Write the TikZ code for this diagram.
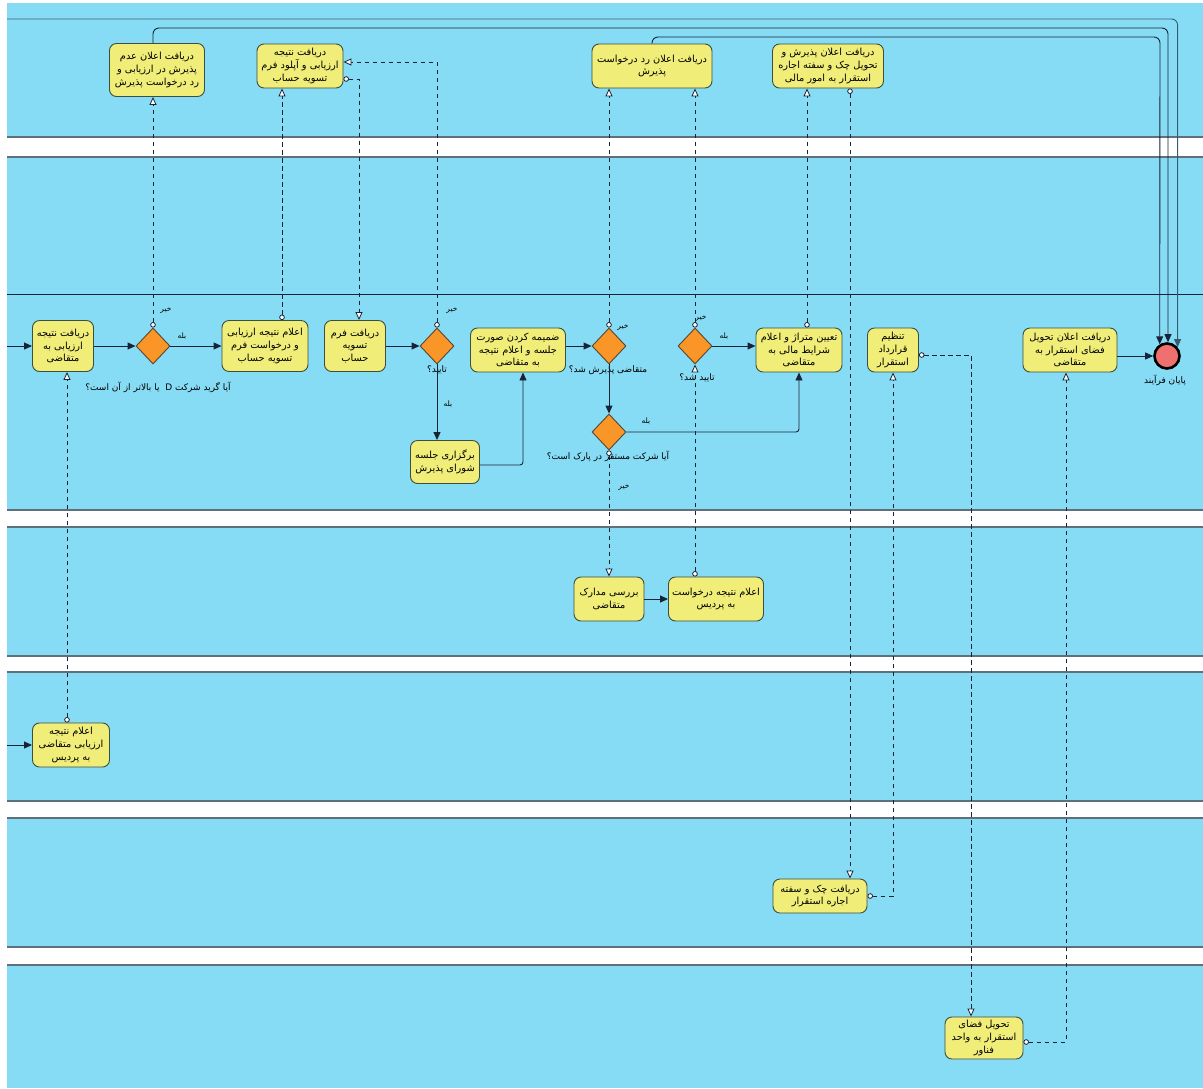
\documentclass[tikz,border=0pt]{standalone}
\usepackage{fontspec}
\newfontfamily\arabicfont[Script=Arabic]{DejaVu Sans}
\TeXXeTstate=1
\usetikzlibrary{arrows.meta,shapes.geometric,calc}
\newcommand{\fa}[1]{{\arabicfont\beginR #1\endR}}
\definecolor{lanefill}{RGB}{135,220,245}
\definecolor{laneline}{RGB}{95,112,122}
\definecolor{boxfill}{RGB}{240,238,120}
\definecolor{boxline}{RGB}{60,78,62}
\definecolor{gwfill}{RGB}{250,150,40}
\definecolor{gwline}{RGB}{85,70,50}
\definecolor{endfill}{RGB}{240,112,112}
\definecolor{flow}{RGB}{25,35,55}
\tikzset{
  task/.style={draw=boxline, fill=boxfill, rounded corners=7pt, line width=0.9pt,
    align=center, inner sep=1pt, font=\fontsize{9.8}{12.6}\selectfont},
  gw/.style={diamond, draw=gwline, fill=gwfill, line width=0.9pt,
    minimum width=34pt, minimum height=36pt, inner sep=0pt},
  endev/.style={circle, draw=black, fill=endfill, line width=2.6pt,
    minimum size=25pt, inner sep=0pt},
  lbl/.style={inner sep=0pt, font=\fontsize{9}{11}\selectfont},
  yn/.style={inner sep=0pt, font=\fontsize{7.5}{9}\selectfont},
  seqflow/.style={draw=flow, line width=0.9pt, -{Triangle[length=8pt,width=7pt]}},
  msgflow/.style={draw=flow, line width=0.8pt, dash pattern=on 4.5pt off 3.5pt,
    {Circle[length=5.5pt,width=5.5pt,fill=white]}-{Triangle[length=8pt,width=7pt,fill=white]}},
}
\begin{document}
\begin{tikzpicture}[x=1pt,y=-1pt]
\useasboundingbox (0,0) rectangle (1203,1088);
\fill[white] (0,0) rectangle (1203,1088);
% lanes
\fill[lanefill] (7,3) rectangle (1203,137);
\fill[lanefill] (7,157) rectangle (1203,510);
\fill[lanefill] (7,527) rectangle (1203,656);
\fill[lanefill] (7,672) rectangle (1203,801);
\fill[lanefill] (7,818) rectangle (1203,947);
\fill[lanefill] (7,965) rectangle (1203,1088);
\foreach \yy in {137,157,510,527,656,672,801,818,947,965}
  \draw[laneline, line width=1.3pt] (7,\yy) -- (1203,\yy);
\draw[flow, line width=1pt] (7,294) -- (1203,294);

% lane 1
\node[task, minimum width=95pt, minimum height=53pt] (A1) at (157,70)
  {\fa{دریافت اعلان عدم}\\\fa{پذیرش در ارزیابی و}\\\fa{رد درخواست پذیرش}};
\node[task, minimum width=86pt, minimum height=44pt] (A2) at (300,66)
  {\fa{دریافت نتیجه}\\\fa{ارزیابی و آپلود فرم}\\\fa{تسویه حساب}};
\node[task, minimum width=120pt, minimum height=44pt] (A3) at (652,66)
  {\fa{دریافت اعلان رد درخواست}\\\fa{پذیرش}};
\node[task, minimum width=111pt, minimum height=44pt] (A4) at (828,66)
  {\fa{دریافت اعلان پذیرش و}\\\fa{تحویل چک و سفته اجاره}\\\fa{استقرار به امور مالی}};

% lane 3
\node[task, minimum width=61pt, minimum height=51pt] (B1) at (63,346)
  {\fa{دریافت نتیجه}\\\fa{ارزیابی به}\\\fa{متقاضی}};
\node[gw] (G1) at (153,346) {};
\node[task, minimum width=86pt, minimum height=51pt] (B2) at (265,346)
  {\fa{اعلام نتیجه ارزیابی}\\\fa{و درخواست فرم}\\\fa{تسویه حساب}};
\node[task, minimum width=61pt, minimum height=51pt] (B3) at (355,346)
  {\fa{دریافت فرم}\\\fa{تسویه}\\\fa{حساب}};
\node[gw] (G2) at (437,346) {};
\node[task, minimum width=69pt, minimum height=43pt] (B4) at (445,462)
  {\fa{برگزاری جلسه}\\\fa{شورای پذیرش}};
\node[task, minimum width=95pt, minimum height=44pt] (B5) at (518,350)
  {\fa{ضمیمه کردن صورت}\\\fa{جلسه و اعلام نتیجه}\\\fa{به متقاضی}};
\node[gw] (G3) at (609,346) {};
\node[gw] (G4) at (609,432) {};
\node[gw] (G5) at (695,346) {};
\node[task, minimum width=86pt, minimum height=44pt] (B6) at (799,350)
  {\fa{تعیین متراژ و اعلام}\\\fa{شرایط مالی به}\\\fa{متقاضی}};
\node[task, minimum width=51pt, minimum height=44pt] (B7) at (893,350)
  {\fa{تنظیم}\\\fa{قرارداد}\\\fa{استقرار}};
\node[task, minimum width=94pt, minimum height=44pt] (B8) at (1070,350)
  {\fa{دریافت اعلان تحویل}\\\fa{فضای استقرار به}\\\fa{متقاضی}};
\node[endev] (End) at (1167,356) {};

% lane 4
\node[task, minimum width=70pt, minimum height=44pt] (C2) at (609,599)
  {\fa{بررسی مدارک}\\\fa{متقاضی}};
\node[task, minimum width=95pt, minimum height=44pt] (C3) at (716,599)
  {\fa{اعلام نتیجه درخواست}\\\fa{به پردیس}};
% lane 5
\node[task, minimum width=77pt, minimum height=44pt] (D1) at (71,745)
  {\fa{اعلام نتیجه}\\\fa{ارزیابی متقاضی}\\\fa{به پردیس}};
% lane 6
\node[task, minimum width=94pt, minimum height=34pt] (E1) at (820,896)
  {\fa{دریافت چک و سفته}\\\fa{اجاره استقرار}};
% lane 7
\node[task, minimum width=78pt, minimum height=42pt] (F1) at (984,1038)
  {\fa{تحویل فضای}\\\fa{استقرار به واحد}\\\fa{فناور}};

% labels
\node[lbl] (lG1) at (158,387) {\fa{آیا گرید شرکت D\ \ یا بالاتر از آن است؟}};
\node[lbl] (lG2) at (437,370) {\fa{تایید؟}};
\node[lbl] (lG3) at (608,370) {\fa{متقاضی پذیرش شد؟}};
\node[lbl] (lG4) at (608,456) {\fa{آیا شرکت مستقر در پارک است؟}};
\node[lbl] (lG5) at (697,378) {\fa{تایید شد؟}};
\node[lbl] (lEnd) at (1165,380) {\fa{پایان فرآیند}};
\node[yn] (n1) at (166,310) {\fa{خیر}};
\node[yn] (y1) at (182,336) {\fa{بله}};
\node[yn] (n2) at (452,310) {\fa{خیر}};
\node[yn] (y2) at (448,404) {\fa{بله}};
\node[yn] (n3) at (623,327) {\fa{خیر}};
\node[yn] (y4) at (646,421) {\fa{بله}};
\node[yn] (n4) at (624,487) {\fa{خیر}};
\node[yn] (n5) at (701,318) {\fa{خیر}};
\node[yn] (y5) at (724,336) {\fa{بله}};

% sequence flows
\coordinate (in1) at (7,346);
\coordinate (in2) at (7,745);
\draw[seqflow] (in1) -- (B1.west);
\draw[seqflow] (B1.east) -- (G1.west);
\draw[seqflow] (G1.east) -- (B2.west);
\draw[seqflow] (B3.east) -- (G2.west);
\draw[seqflow] (G2.south) -- (G2.south |- B4.north);
\draw[seqflow, rounded corners=3pt] ([yshift=-3pt]B4.east) -| ([xshift=5pt]B5.south);
\draw[seqflow] (G3.west -| B5.east) -- (G3.west);
\draw[seqflow] (G3.south) -- (G4.north);
\draw[seqflow, rounded corners=3pt] (G4.east) -| (B6.south);
\draw[seqflow] (G5.east) -- (G5.east -| B6.west);
\draw[seqflow] (C2.east) -- (C3.west);
\draw[seqflow] (End.west -| B8.east) -- (End.west);
\draw[seqflow] (in2) -- (D1.west);

% long flows into end event
\coordinate (top0) at (7,19);
\coordinate (r2) at (1168,28);
\coordinate (r3) at (1160,37);
\draw[seqflow, draw=flow!70!lanefill, rounded corners=6pt] (top0) -| (End.40);
\draw[seqflow, rounded corners=6pt] ([xshift=-4pt]A1.north) |- (r2) -- (r2 |- End.north);
\draw[seqflow, rounded corners=6pt] (A3.north) |- (r3) -- (End.122);

% message flows
\draw[msgflow] (G1.north) -- (G1.north |- A1.south);
\coordinate (b2t) at ([xshift=17pt]B2.north);
\draw[msgflow] (b2t) -- (b2t |- A2.south);
\draw[msgflow] ([yshift=-13pt]A2.east) -| ([xshift=4pt]B3.north);
\draw[msgflow] (G2.north) |- ([yshift=4pt]A2.east);
\draw[msgflow] (G3.north) -- (G3.north |- A3.south);
\draw[msgflow] (G5.north) -- (G5.north |- A3.south);
\draw[msgflow] (G4.south) -- (C2.north);
\draw[msgflow] (G5.south |- C3.north) -- (G5.south);
\coordinate (b6t) at ([xshift=8pt]B6.north);
\draw[msgflow] (b6t) -- (b6t |- A4.south);
\coordinate (a4b) at ([xshift=22pt]A4.south);
\draw[msgflow] (a4b) -- (a4b |- E1.north);
\draw[msgflow] (E1.east) -| (B7.south);
\draw[msgflow] ([yshift=-5pt]B7.east) -| ([xshift=-13pt]F1.north);
\draw[msgflow] ([yshift=-4pt]F1.east) -| ([xshift=-4pt]B8.south);
\coordinate (d1t) at ([xshift=-4pt]D1.north);
\draw[msgflow] (d1t) -- (d1t |- B1.south);
\end{tikzpicture}
\end{document}
